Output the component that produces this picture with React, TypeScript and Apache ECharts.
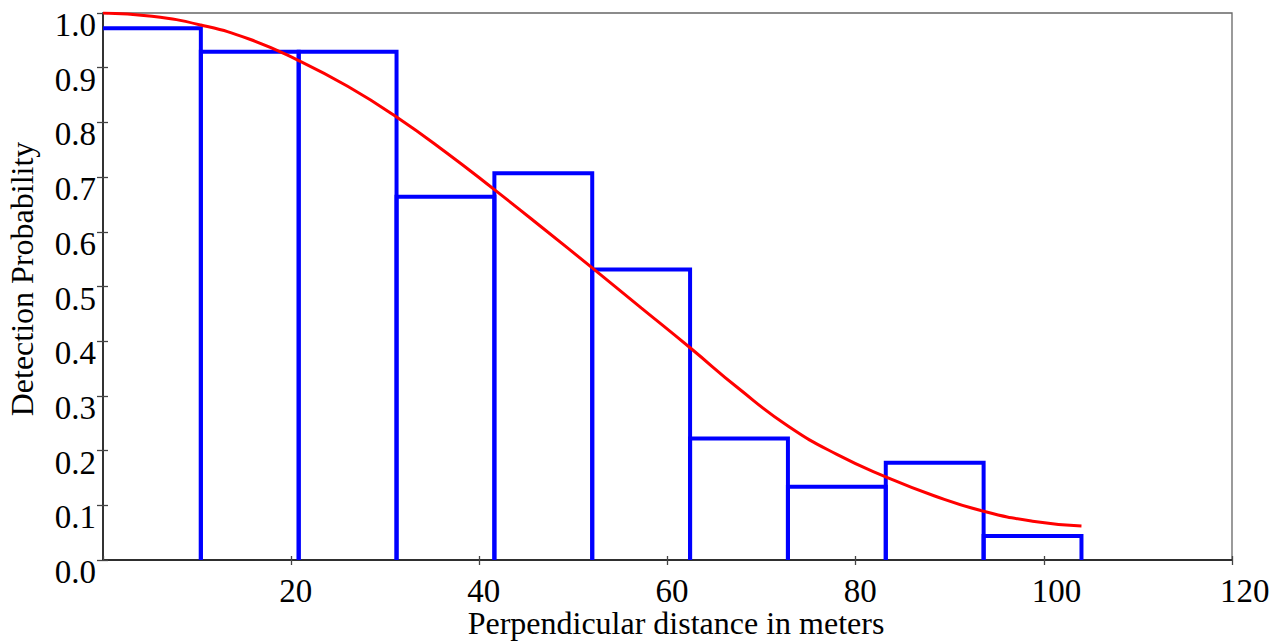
import React, { useEffect, useRef } from "react";
import * as echarts from "echarts";

const binEdges = [0, 10.4, 20.8, 31.2, 41.6, 52, 62.4, 72.8, 83.2, 93.6, 104];
const binHeights = [0.972, 0.929, 0.929, 0.664, 0.707, 0.531, 0.222, 0.134, 0.178, 0.044];
const curveX = [0, 5.2, 10.4, 15.6, 20.8, 26, 31.2, 36.4, 41.6, 46.8, 52, 57.2, 62.4, 67.6, 72.8, 78, 83.2, 88.4, 93.6, 98.8, 104];
const curveY = [1.0, 0.994, 0.978, 0.952, 0.913, 0.866, 0.81, 0.746, 0.677, 0.606, 0.534, 0.461, 0.388, 0.313, 0.245, 0.193, 0.152, 0.117, 0.089, 0.071, 0.062];
const xTitle = "Perpendicular distance in meters";
const yTitle = "Detection Probability";

const FONT = "'Liberation Serif', 'Times New Roman', serif";

export default function App() {
  const ref = useRef<HTMLDivElement>(null);
  useEffect(() => {
    if (!ref.current) return;
    const chart = echarts.init(ref.current, undefined, { renderer: "svg" });
    const bins = binHeights.map((h, i) => [binEdges[i], binEdges[i + 1], h, i]);
    const option: any = {
      animation: false,
      backgroundColor: "#fff",
      grid: {
        left: 103,
        right: 47,
        top: 13,
        bottom: 82,
        show: true,
        borderColor: "#666",
        borderWidth: 1.3,
        containLabel: false,
      },
      xAxis: [
        {
          type: "value",
          min: 0,
          max: 120,
          interval: 20,
          splitLine: { show: false },
          axisLine: { show: true, lineStyle: { color: "#111", width: 1.5 } },
          axisTick: { show: true, length: 5, lineStyle: { color: "#444", width: 1.3 } },
          axisLabel: {
            showMinLabel: false,
            formatter: (v: number) => (v === 0 ? "" : String(v)),
            fontFamily: FONT,
            fontSize: 33,
            color: "#000",
            margin: 20,
            lineHeight: 22,
            align: "left",
            padding: [0, 0, 0, -12],
          },
        },
        {
          type: "value",
          min: 0,
          max: 120,
          interval: 20,
          position: "bottom",
          splitLine: { show: false },
          axisLine: { show: false },
          axisTick: { show: true, inside: true, length: 4, lineStyle: { color: "#444", width: 1.3 } },
          axisLabel: { show: false },
        },
      ],
      yAxis: [
        {
          type: "value",
          min: 0,
          max: 1,
          interval: 0.1,
          splitLine: { show: false },
          axisLine: { show: true, lineStyle: { color: "#111", width: 1.5 } },
          axisTick: { show: true, length: 6, lineStyle: { color: "#444", width: 1.3 } },
          axisLabel: {
            formatter: (v: number) => v.toFixed(1),
            fontFamily: FONT,
            fontSize: 33,
            color: "#000",
            margin: 7,
            verticalAlign: "top",
            lineHeight: 24,
          },
        },
        {
          type: "value",
          min: 0,
          max: 1,
          interval: 0.1,
          position: "left",
          splitLine: { show: false },
          axisLine: { show: false },
          axisTick: { show: true, inside: true, length: 5, lineStyle: { color: "#444", width: 1.3 } },
          axisLabel: { show: false },
        },
      ],
      graphic: [
        {
          type: "text",
          x: 676,
          y: 610,
          style: {
            text: xTitle,
            fontFamily: FONT,
            fontSize: 32,
            lineHeight: 26,
            fill: "#000",
            align: "center",
            verticalAlign: "top",
          },
        },
        {
          type: "text",
          x: 6,
          y: 279,
          rotation: Math.PI / 2,
          style: {
            text: yTitle,
            fontFamily: FONT,
            fontSize: 32,
            lineHeight: 32,
            fill: "#000",
            align: "center",
            verticalAlign: "top",
          },
        },
      ],
      series: [
        {
          type: "custom",
          xAxisIndex: 0,
          yAxisIndex: 0,
          data: bins,
          encode: { x: [0, 1], y: 2 },
          renderItem: (params: any, api: any) => {
            const x0 = api.value(0);
            const x1 = api.value(1);
            const h = api.value(2);
            const idx = api.value(3);
            const p0 = api.coord([x0, 0]);
            const p1 = api.coord([x0, h]);
            const p2 = api.coord([x1, h]);
            const p3 = api.coord([x1, 0]);
            const pts = idx === 0 ? [p1, p2, p3] : [p0, p1, p2, p3];
            return {
              type: "polyline",
              shape: { points: pts },
              style: { stroke: "#0000ff", lineWidth: 4, fill: "none" },
            };
          },
          z: 2,
        },
        {
          type: "line",
          xAxisIndex: 0,
          yAxisIndex: 0,
          data: curveX.map((x, i) => [x, curveY[i]]),
          smooth: 0.5,
          showSymbol: false,
          symbol: "none",
          lineStyle: { color: "#ff0000", width: 3 },
          z: 3,
        },
      ],
    };
    chart.setOption(option);
    return () => chart.dispose();
  }, []);
  return (
    <div
      ref={ref}
      style={{ position: "fixed", left: 0, top: 0, width: 1279, height: 642, background: "#fff" }}
    />
  );
}
